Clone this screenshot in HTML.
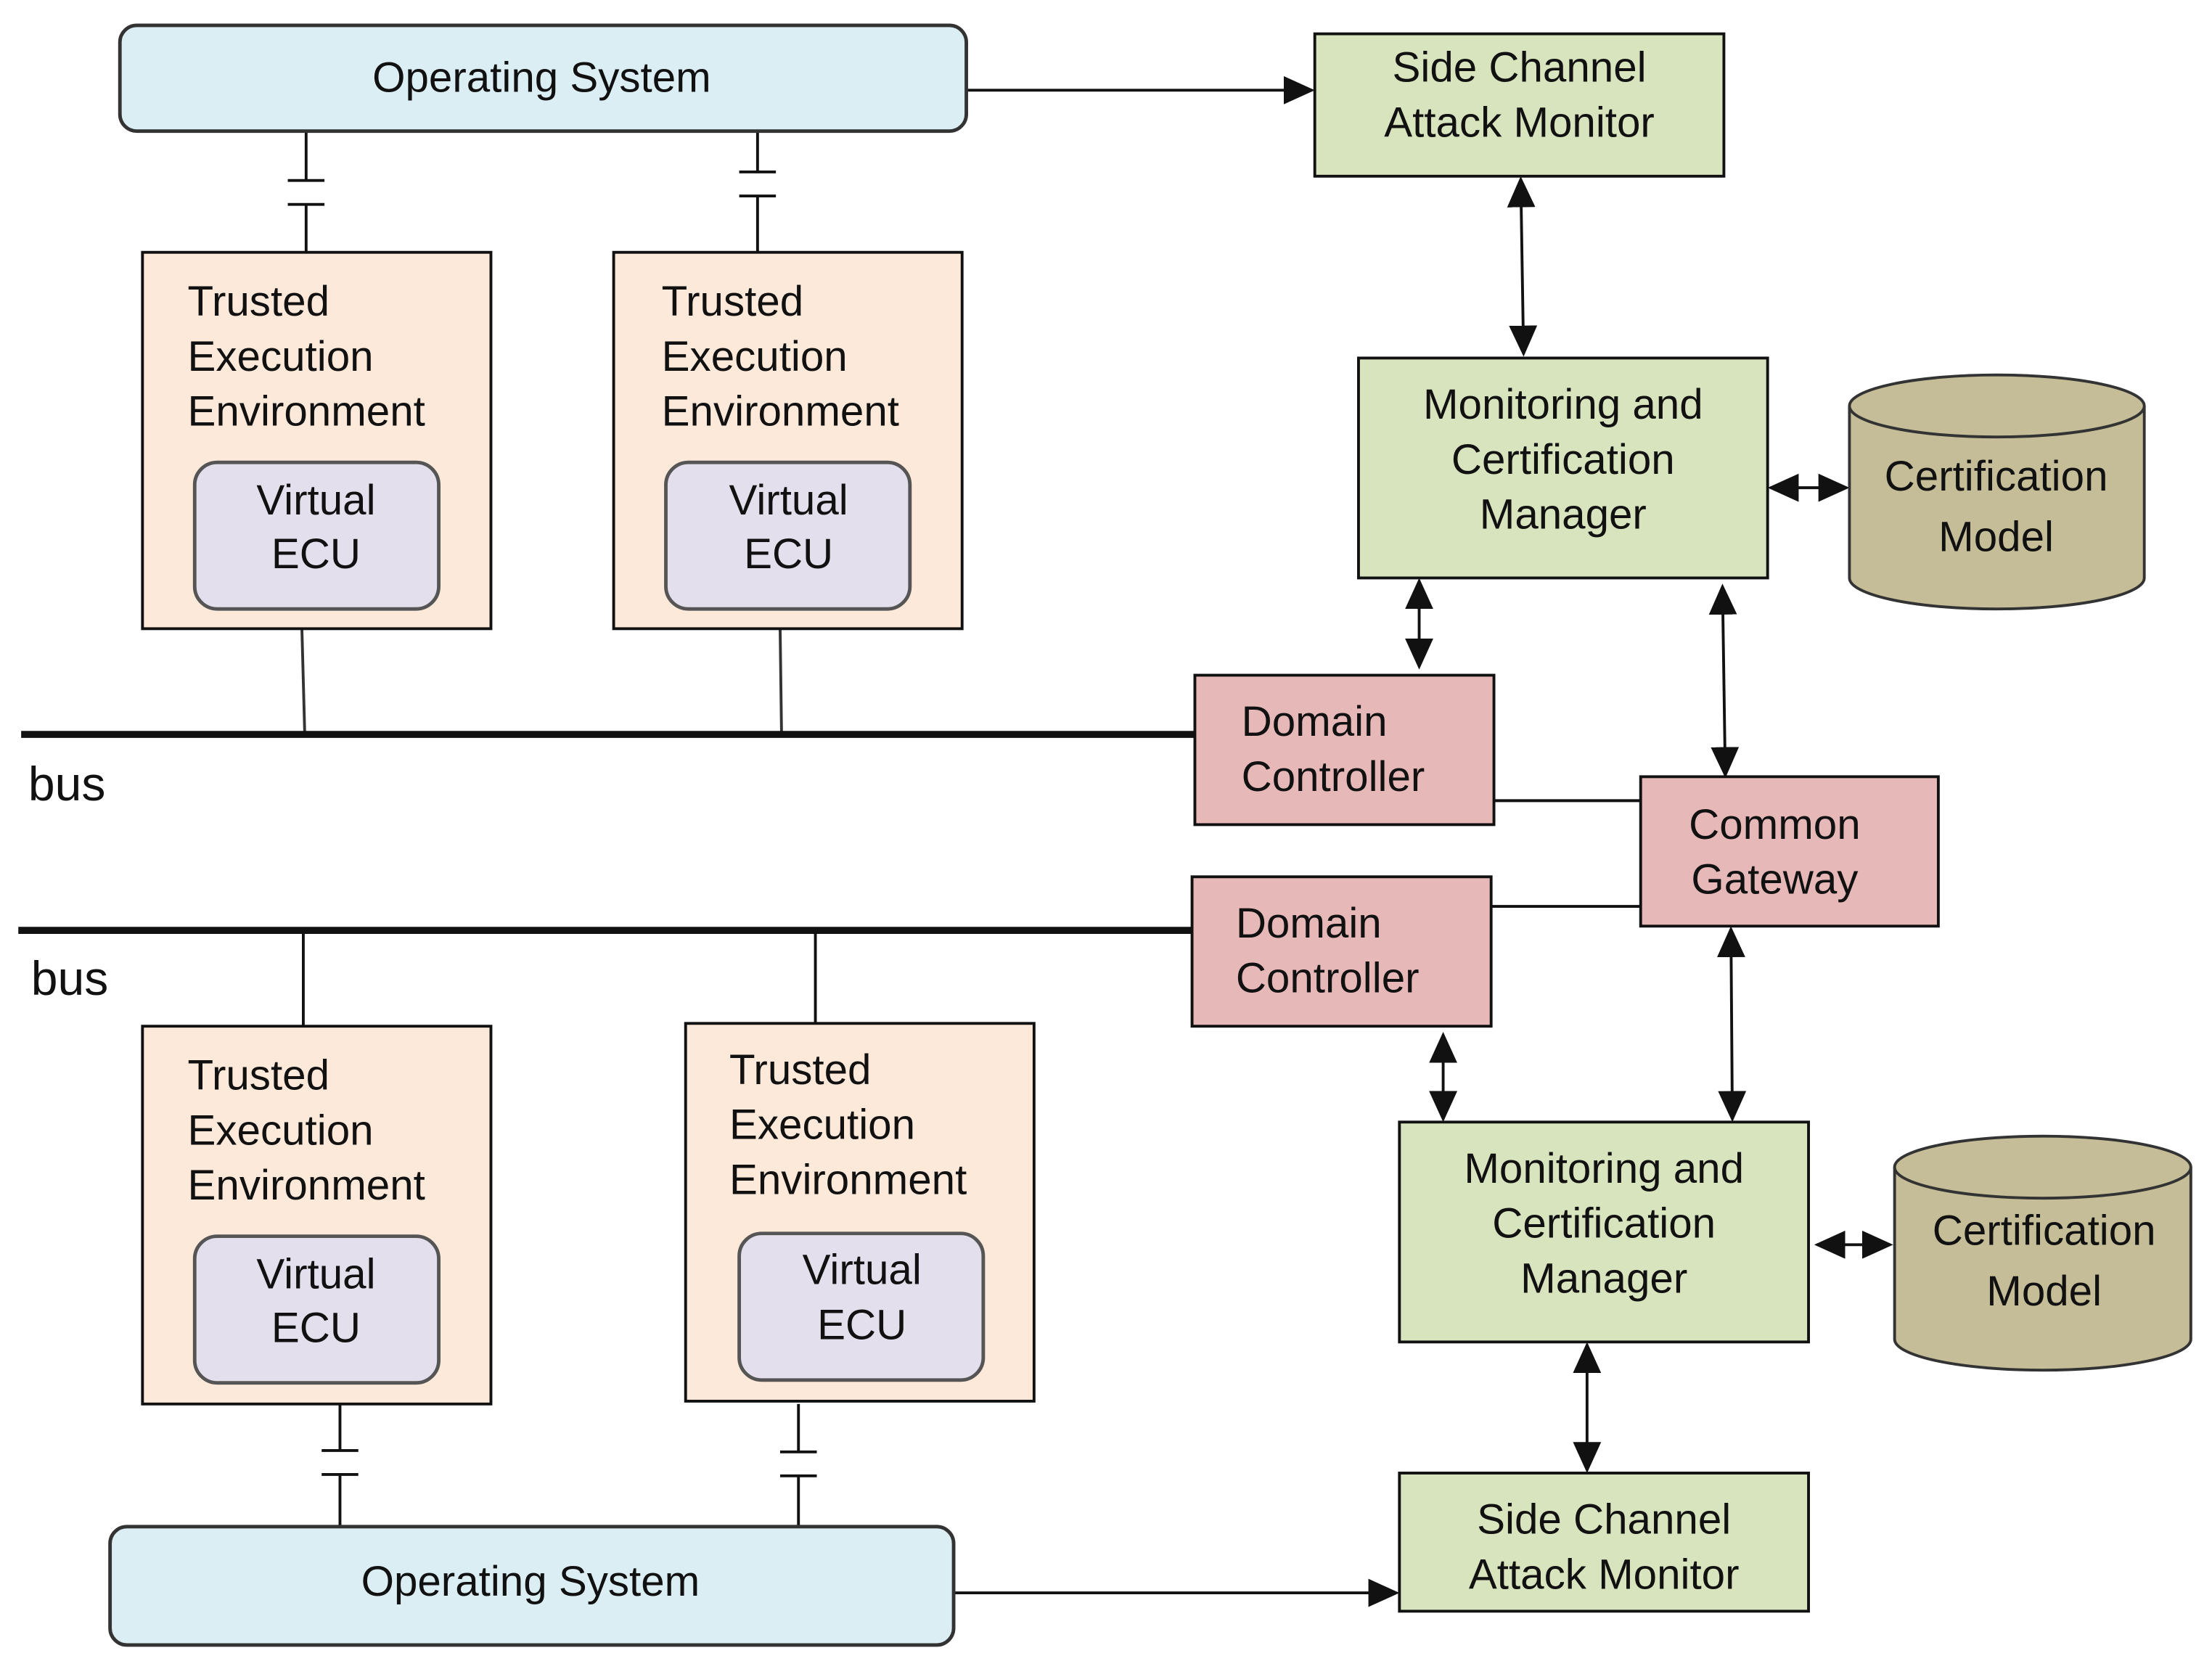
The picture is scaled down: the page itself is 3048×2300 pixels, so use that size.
<!DOCTYPE html>
<html><head><meta charset="utf-8"><style>
html,body{margin:0;padding:0;background:#fff}
svg{display:block}
text{font-family:"Liberation Sans",Arial,sans-serif;font-size:30px;fill:#111;dominant-baseline:central}
.c{text-anchor:middle}
</style></head><body>
<svg width="3048" height="2300" viewBox="0 0 1568 1184" preserveAspectRatio="none" xmlns="http://www.w3.org/2000/svg">
<defs>
<marker id="a" markerUnits="userSpaceOnUse" markerWidth="22" markerHeight="20" refX="20" refY="10" orient="auto-start-reverse">
<path d="M0,0 L22,10 L0,20 Z" fill="#111"/>
</marker>
</defs>
<g stroke="#111" stroke-width="2" fill="none">
<!-- capacitors top -->
<line x1="217" y1="94" x2="217" y2="128"/><line x1="204" y1="128" x2="230" y2="128"/>
<line x1="204" y1="145" x2="230" y2="145"/><line x1="217" y1="145" x2="217" y2="180"/>
<line x1="537" y1="94" x2="537" y2="122"/><line x1="524" y1="122" x2="550" y2="122"/>
<line x1="524" y1="139" x2="550" y2="139"/><line x1="537" y1="139" x2="537" y2="180"/>
<!-- capacitors bottom -->
<line x1="241" y1="996" x2="241" y2="1029"/><line x1="228" y1="1029" x2="254" y2="1029"/>
<line x1="228" y1="1046" x2="254" y2="1046"/><line x1="241" y1="1046" x2="241" y2="1083"/>
<line x1="566" y1="996" x2="566" y2="1030"/><line x1="553" y1="1030" x2="579" y2="1030"/>
<line x1="553" y1="1047" x2="579" y2="1047"/><line x1="566" y1="1047" x2="566" y2="1083"/>
<!-- bus taps -->
<line x1="214" y1="446" x2="216" y2="520" stroke="#333"/>
<line x1="553" y1="446" x2="554" y2="520" stroke="#333"/>
<line x1="215" y1="660" x2="215" y2="728"/>
<line x1="578" y1="660" x2="578" y2="726"/>
<!-- DC to CG -->
<line x1="1059" y1="568" x2="1163" y2="568"/>
<line x1="1057" y1="643" x2="1163" y2="643"/>
<!-- buses -->
<line x1="15" y1="521" x2="848" y2="521" stroke-width="5"/>
<line x1="13" y1="660" x2="845" y2="660" stroke-width="5"/>
<!-- arrows -->
<line x1="686" y1="64" x2="930" y2="64" marker-end="url(#a)"/>
<line x1="676" y1="1130" x2="990" y2="1130" marker-end="url(#a)"/>
<line x1="1078" y1="127" x2="1080" y2="251" marker-start="url(#a)" marker-end="url(#a)"/>
<line x1="1255" y1="346" x2="1309" y2="346" marker-start="url(#a)" marker-end="url(#a)"/>
<line x1="1006" y1="412" x2="1006" y2="473" marker-start="url(#a)" marker-end="url(#a)"/>
<line x1="1221" y1="416" x2="1223" y2="550" marker-start="url(#a)" marker-end="url(#a)"/>
<line x1="1023" y1="734" x2="1023" y2="794" marker-start="url(#a)" marker-end="url(#a)"/>
<line x1="1227" y1="659" x2="1228" y2="794" marker-start="url(#a)" marker-end="url(#a)"/>
<line x1="1288" y1="883" x2="1340" y2="883" marker-start="url(#a)" marker-end="url(#a)"/>
<line x1="1125" y1="954" x2="1125" y2="1043" marker-start="url(#a)" marker-end="url(#a)"/>
</g>
<!-- OS -->
<rect x="85" y="18" width="600" height="75" rx="12" fill="#daeef3" stroke="#333" stroke-width="2.5"/>
<text x="384" y="55" class="c">Operating System</text>
<rect x="78" y="1083" width="598" height="84" rx="12" fill="#daeef3" stroke="#333" stroke-width="2.5"/>
<text x="376" y="1122" class="c">Operating System</text>
<!-- SCAM -->
<g fill="#d7e4bd" stroke="#111" stroke-width="2">
<rect x="932" y="24" width="290" height="101"/>
<rect x="992" y="1045" width="290" height="98"/>
<rect x="963" y="254" width="290" height="156"/>
<rect x="992" y="796" width="290" height="156"/>
</g>
<text x="1077" y="48" class="c">Side Channel</text><text x="1077" y="87" class="c">Attack Monitor</text>
<text x="1137" y="1078" class="c">Side Channel</text><text x="1137" y="1117" class="c">Attack Monitor</text>
<text x="1108" y="287" class="c">Monitoring and</text><text x="1108" y="326" class="c">Certification</text><text x="1108" y="365" class="c">Manager</text>
<text x="1137" y="829" class="c">Monitoring and</text><text x="1137" y="868" class="c">Certification</text><text x="1137" y="907" class="c">Manager</text>
<!-- cylinders -->
<g fill="#c4bd97" stroke="#333" stroke-width="2">
<path d="M1311,288 L1311,410 A104.5,22 0 0 0 1520,410 L1520,288"/>
<ellipse cx="1415.5" cy="288" rx="104.5" ry="22"/>
<path d="M1343,828 L1343,950 A105,22 0 0 0 1553,950 L1553,828"/>
<ellipse cx="1448" cy="828" rx="105" ry="22"/>
</g>
<text x="1415" y="338" class="c">Certification</text><text x="1415" y="381" class="c">Model</text>
<text x="1449" y="873" class="c">Certification</text><text x="1449" y="916" class="c">Model</text>
<!-- DC / CG -->
<g fill="#e6b9b8" stroke="#111" stroke-width="2">
<rect x="847" y="479" width="212" height="106"/>
<rect x="845" y="622" width="212" height="106"/>
<rect x="1163" y="551" width="211" height="106"/>
</g>
<text x="880" y="512">Domain</text><text x="880" y="551">Controller</text>
<text x="876" y="655">Domain</text><text x="876" y="694">Controller</text>
<text x="1258" y="585" class="c">Common</text><text x="1258" y="624" class="c">Gateway</text>
<text x="20" y="556" style="font-size:34px">bus</text>
<text x="22" y="694" style="font-size:34px">bus</text>
<!-- TEEs -->
<g fill="#fde9d9" stroke="#111" stroke-width="2">
<rect x="101" y="179" width="247" height="267"/>
<rect x="435" y="179" width="247" height="267"/>
<rect x="101" y="728" width="247" height="268"/>
<rect x="486" y="726" width="247" height="268"/>
</g>
<g fill="#e4dfec" stroke="#555" stroke-width="2.5">
<rect x="138" y="328" width="173" height="104" rx="16"/>
<rect x="472" y="328" width="173" height="104" rx="16"/>
<rect x="138" y="877" width="173" height="104" rx="16"/>
<rect x="524" y="875" width="173" height="104" rx="16"/>
</g>
<text x="133" y="214">Trusted</text><text x="133" y="253">Execution</text><text x="133" y="292">Environment</text>
<text x="469" y="214">Trusted</text><text x="469" y="253">Execution</text><text x="469" y="292">Environment</text>
<text x="133" y="763">Trusted</text><text x="133" y="802">Execution</text><text x="133" y="841">Environment</text>
<text x="517" y="759">Trusted</text><text x="517" y="798">Execution</text><text x="517" y="837">Environment</text>
<text x="224" y="355" class="c">Virtual</text><text x="224" y="393" class="c">ECU</text>
<text x="559" y="355" class="c">Virtual</text><text x="559" y="393" class="c">ECU</text>
<text x="224" y="904" class="c">Virtual</text><text x="224" y="942" class="c">ECU</text>
<text x="611" y="901" class="c">Virtual</text><text x="611" y="940" class="c">ECU</text>
</svg>
</body></html>
